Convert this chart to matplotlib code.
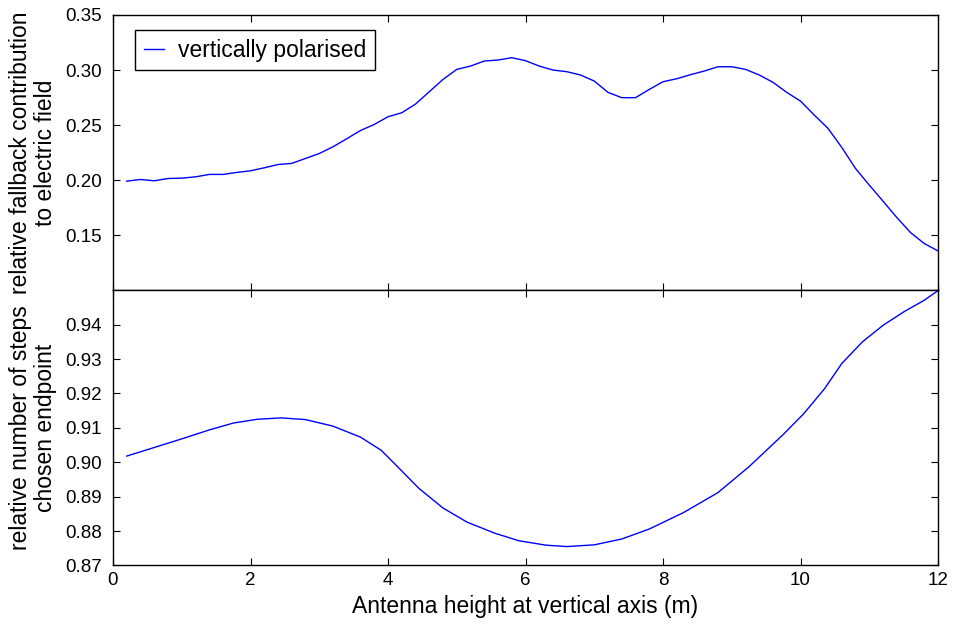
import numpy as np
import matplotlib
matplotlib.use("Agg")
import matplotlib.pyplot as plt

# top panel: fallback contribution, sampled every 0.2 m
height_top = np.round(np.arange(1, 61) * 0.2, 1)
fallback = [
    0.1991, 0.2006, 0.1994, 0.2015, 0.2018, 0.2030, 0.2052, 0.2052, 0.2070, 0.2085,
    0.2112, 0.2142, 0.2152, 0.2197, 0.2242, 0.2303, 0.2376, 0.2451, 0.2506, 0.2576,
    0.2612, 0.2691, 0.2803, 0.2915, 0.3006, 0.3036, 0.3082, 0.3091, 0.3112, 0.3085,
    0.3036, 0.3000, 0.2985, 0.2955, 0.2900, 0.2797, 0.2749, 0.2749, 0.2824, 0.2894,
    0.2921, 0.2958, 0.2991, 0.3030, 0.3030, 0.3006, 0.2955, 0.2888, 0.2797, 0.2718,
    0.2591, 0.2470, 0.2297, 0.2106, 0.1955, 0.1809, 0.1661, 0.1524, 0.1424, 0.1357,
]

# bottom panel: relative number of steps
height_bot = [0.2, 0.6, 1.0, 1.4, 1.75, 2.1, 2.45, 2.8, 3.2, 3.6, 3.9, 4.1, 4.45,
              4.8, 5.15, 5.55, 5.9, 6.3, 6.6, 7.0, 7.4, 7.8, 8.3, 8.8, 9.25, 9.75,
              10.05, 10.35, 10.6, 10.9, 11.2, 11.5, 11.8, 12.0]
steps = [0.9018, 0.9043, 0.9068, 0.9094, 0.9114, 0.9125, 0.9129, 0.9124, 0.9105,
         0.9073, 0.9035, 0.8995, 0.8924, 0.8867, 0.8826, 0.8794, 0.8772, 0.8759,
         0.8755, 0.8760, 0.8777, 0.8806, 0.8854, 0.8912, 0.8987, 0.9081, 0.9142,
         0.9214, 0.9287, 0.9350, 0.9398, 0.9437, 0.9471, 0.9499]

plt.rcParams["font.family"] = ["Liberation Sans", "DejaVu Sans"]

fig, (ax1, ax2) = plt.subplots(2, 1, figsize=(9.56, 6.3), dpi=100, sharex=True)
fig.subplots_adjust(left=0.1182, right=0.9812, bottom=0.1024, top=0.9762, hspace=0)

ax1.plot(height_top, fallback, color="b", lw=1.0, label="vertically polarised")
ax2.plot(height_bot, steps, color="b", lw=1.0)

ax1.set_xlim(0, 12)
ax1.set_ylim(0.10, 0.35)
ax1.set_yticks([0.15, 0.20, 0.25, 0.30, 0.35])
ax2.set_ylim(0.87, 0.95)
ax2.set_yticks([0.87, 0.88, 0.89, 0.90, 0.91, 0.92, 0.93, 0.94])
ax2.set_xticks([0, 2, 4, 6, 8, 10, 12])

for ax in (ax1, ax2):
    ax.tick_params(direction="in", top=True, right=True, length=5, width=0.8,
                   labelsize=13.5)
    ax.tick_params(axis="y", pad=8)
    ax.tick_params(axis="x", pad=5)
    ax.yaxis.set_major_formatter(matplotlib.ticker.FormatStrFormatter("%.2f"))
    for s in ax.spines.values():
        s.set_linewidth(1.0)

ax1.set_ylabel("relative fallback contribution\nto electric field", fontsize=16.5,
               linespacing=1.1, multialignment="center")
ax2.set_ylabel("relative number of steps\nchosen endpoint", fontsize=16.5,
               linespacing=1.1, multialignment="center")
ax2.set_xlabel("Antenna height at vertical axis (m)", fontsize=16.5)
ax1.yaxis.set_label_coords(-0.068, 0.5)
ax2.yaxis.set_label_coords(-0.068, 0.5)

leg = ax1.legend(loc="upper left", bbox_to_anchor=(0.0267, 0.9455),
                 fontsize=16.5, handlelength=0.9, fancybox=False, framealpha=1,
                 borderaxespad=0, handletextpad=0.6, borderpad=0.38)
leg.get_frame().set_edgecolor("black")
leg.get_frame().set_linewidth(1.0)

fig.savefig("out.png", dpi=100)
